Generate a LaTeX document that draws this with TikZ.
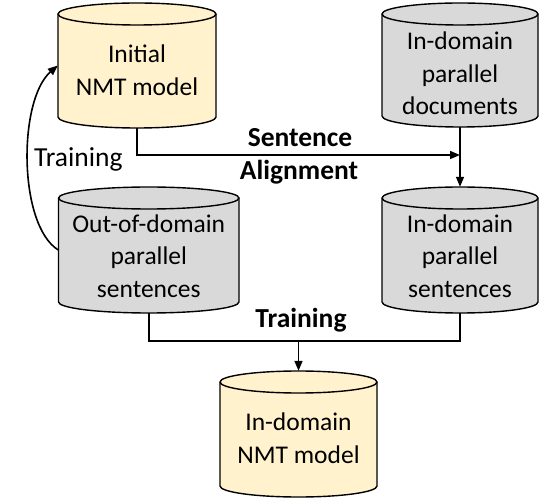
\documentclass[tikz,border=0pt]{standalone}
\usepackage{fontspec}
\setmainfont{Carlito}
\usetikzlibrary{arrows.meta}
\definecolor{modelfill}{HTML}{FFF2CC}
\definecolor{datafill}{HTML}{D9D9D9}
\tikzset{
  cylline/.style={line width=1.4pt, draw=black},
  cyltext/.style={align=center, inner sep=0pt, font=\fontsize{25.5}{32.5}\selectfont},
  lbl/.style={inner sep=0pt, anchor=base, font=\fontsize{27.5}{33}\selectfont},
  conn/.style={line width=1.6pt},
  arr/.style={conn, -{Triangle[length=10pt,width=8pt]}},
}
% name, L, R, top, bottom, fill, text y, text
\newcommand\dbcyl[8]{%
  \filldraw[cylline, fill=#6] ({#2},{#4-11}) -- ({#2},{#5+11})
     arc[start angle=180, end angle=360, x radius={(#3-#2)/2}, y radius=11]
     -- ({#3},{#4-11})
     arc[start angle=0, end angle=180, x radius={(#3-#2)/2}, y radius=11] -- cycle;
  \draw[cylline] ({#2},{#4-11}) arc[start angle=180, end angle=360, x radius={(#3-#2)/2}, y radius=11];
  \node[inner sep=0pt, minimum width={(#3-#2)*1pt}, minimum height={(#4-#5)*1pt}] (#1) at ({(#2+#3)/2},{(#4+#5)/2}) {};
  \node[cyltext] (#1-t) at ({(#2+#3)/2},#7) {#8};
}
\begin{document}
\begin{tikzpicture}[x=1pt, y=1pt]
\useasboundingbox (0,0) rectangle (540,498);
\dbcyl{init}{58}{216}{495}{370}{modelfill}{428}{Initial\\NMT model}
\dbcyl{docs}{382}{538}{495}{371}{datafill}{424.5}{In-domain\\parallel\\documents}
\dbcyl{out}{58.5}{239}{311}{185}{datafill}{242}{Out-of-domain\\parallel\\sentences}
\dbcyl{sent}{382}{538}{311}{185}{datafill}{242}{In-domain\\parallel\\sentences}
\dbcyl{final}{220}{377}{127}{1}{modelfill}{60}{In-domain\\NMT model}

\coordinate (join) at (460,343);
\coordinate (tj) at (298.5,157);

\draw[arr] (init.south) |- (join);
\draw[arr] (docs.south) -- (sent.north);
\draw[conn] (out.south) |- (tj) -| (sent.south);
\draw[arr] (tj) -- (final.north);
\draw[arr] (out.west) .. controls (18,273) and (18,398) .. (init.west);

\node[lbl, font=\fontsize{27.5}{33}\selectfont\bfseries] (sa1) at (300,351) {Sentence};
\node[lbl, font=\fontsize{27.5}{33}\selectfont\bfseries] (sa2) at (299,318) {Alignment};
\node[lbl, anchor=base west] (tr1) at (34,331) {Training};
\node[lbl, font=\fontsize{27.5}{33}\selectfont\bfseries] (tr2) at (301,171) {Training};
\end{tikzpicture}
\end{document}
